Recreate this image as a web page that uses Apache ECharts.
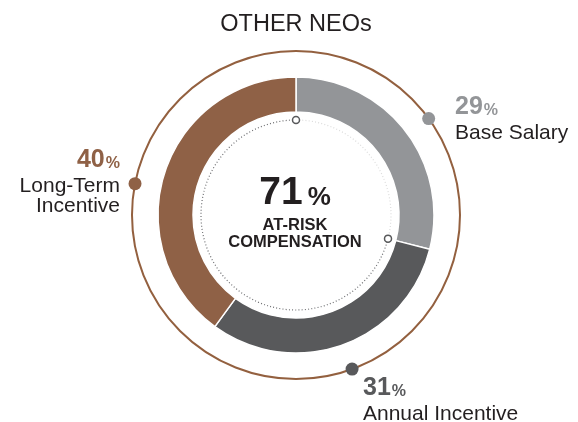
<!DOCTYPE html>
<html>
<head>
<meta charset="utf-8">
<script src="https://cdn.jsdelivr.net/npm/echarts@6/dist/echarts.min.js"></script>
<style>
html,body{margin:0;padding:0;background:#fff;}
#c{width:578px;height:422px;}
</style>
</head>
<body>
<div id="c"></div>
<script>
// ---- data ----
var titleText = 'OTHER NEOs';
var categories = ['Base Salary', 'Annual Incentive', 'Long-Term\nIncentive'];
var values = [29, 31, 40];
var centerValue = 71;
var centerLabel = 'AT-RISK\nCOMPENSATION';

// ---- layout / style ----
var colors = ['#939598', '#58595b', '#8f6146'];
var ringColor = '#93603f';
var CX = 296, CY = 215;
var R_OUT = 164, R_DOT = 95;
var dotAngles = [54, 160, 281];
var FONT = '"Liberation Sans", Arial, Helvetica, sans-serif';

function pt(r, deg) {
  var a = deg * Math.PI / 180;
  return [CX + r * Math.sin(a), CY - r * Math.cos(a)];
}

var chart = echarts.init(document.getElementById('c'), null, {renderer: 'canvas'});

var total = values.reduce(function (a, b) { return a + b; }, 0);
var boundaryDeg = values[0] / total * 360; // end of base salary

var graphics = [];
graphics.push({type: 'circle', shape: {cx: CX, cy: CY, r: R_OUT}, style: {fill: 'none', stroke: ringColor, lineWidth: 2}, z: 1});
var toRad = function (deg) { return (deg - 90) * Math.PI / 180; };
graphics.push({type: 'arc', shape: {cx: CX, cy: CY, r: R_DOT, startAngle: toRad(0), endAngle: toRad(boundaryDeg), clockwise: true},
  style: {fill: 'none', stroke: '#dcdcdc', lineWidth: 1.2, lineDash: [1, 2.2]}, z: 2});
graphics.push({type: 'arc', shape: {cx: CX, cy: CY, r: R_DOT, startAngle: toRad(boundaryDeg), endAngle: toRad(360), clockwise: true},
  style: {fill: 'none', stroke: '#6d6e71', lineWidth: 1.2, lineDash: [1, 2.2]}, z: 2});
[0, boundaryDeg].forEach(function (d) {
  var p = pt(R_DOT, d);
  graphics.push({type: 'circle', shape: {cx: p[0], cy: p[1], r: 3.5}, style: {fill: '#fff', stroke: '#58595b', lineWidth: 1.5}, z: 3});
});
dotAngles.forEach(function (d, i) {
  var p = pt(R_OUT, d);
  graphics.push({type: 'circle', shape: {cx: p[0], cy: p[1], r: 6.5}, style: {fill: colors[i]}, z: 3});
});

function label(i, x, y, align) {
  var lines = categories[i].split('\n');
  var txt = '{v|' + values[i] + '}{p|%}';
  lines.forEach(function (l) { txt += '\n{n|' + l + '}'; });
  return {
    type: 'text', x: x, y: y, z: 5,
    style: {
      text: txt, align: align, verticalAlign: 'top',
      rich: {
        v: {fontFamily: FONT, fontSize: 25, fontWeight: 'bold', fill: colors[i], lineHeight: 35, verticalAlign: 'bottom', padding: [0, 0, 3, 0]},
        p: {fontFamily: FONT, fontSize: 16, fontWeight: 'bold', fill: colors[i], lineHeight: 35, verticalAlign: 'bottom', padding: [0, 0, 4, 1]},
        n: {fontFamily: FONT, fontSize: 21, fill: '#231f20', lineHeight: 20}
      }
    }
  };
}
graphics.push(label(0, 455, 88, 'left'));
graphics.push(label(1, 363, 369, 'left'));
graphics.push(label(2, 120, 141, 'right'));

graphics.push({
  type: 'text', x: CX - 1, y: 173, z: 5,
  style: {
    text: '{v|' + centerValue + '}{p|%}',
    align: 'center', verticalAlign: 'top',
    rich: {
      v: {fontFamily: FONT, fontSize: 39, fontWeight: 'bold', fill: '#231f20', lineHeight: 40, verticalAlign: 'bottom'},
      p: {fontFamily: FONT, fontSize: 26, fontWeight: 'bold', fill: '#231f20', lineHeight: 40, verticalAlign: 'bottom', padding: [0, 0, 2, 5]}
    }
  }
});
graphics.push({
  type: 'text', x: CX - 1, y: 217, z: 5,
  style: {
    text: centerLabel, align: 'center', verticalAlign: 'top',
    fontFamily: FONT, fontSize: 16.5, fontWeight: 'bold', fill: '#231f20', lineHeight: 17
  }
});

chart.setOption({
  animation: false,
  backgroundColor: '#fff',
  title: {
    text: titleText, left: 291, top: 8, textAlign: 'center',
    textStyle: {fontFamily: FONT, fontSize: 23.5, fontWeight: 'normal', color: '#231f20'}
  },
  series: [{
    type: 'pie',
    center: [CX, CY],
    radius: [103, 138],
    startAngle: 90,
    clockwise: true,
    silent: true,
    label: {show: false},
    labelLine: {show: false},
    itemStyle: {borderColor: '#fff', borderWidth: 1.5},
    data: values.map(function (v, i) {
      return {name: categories[i], value: v, itemStyle: {color: colors[i]}};
    })
  }],
  graphic: graphics
});
</script>
</body>
</html>
